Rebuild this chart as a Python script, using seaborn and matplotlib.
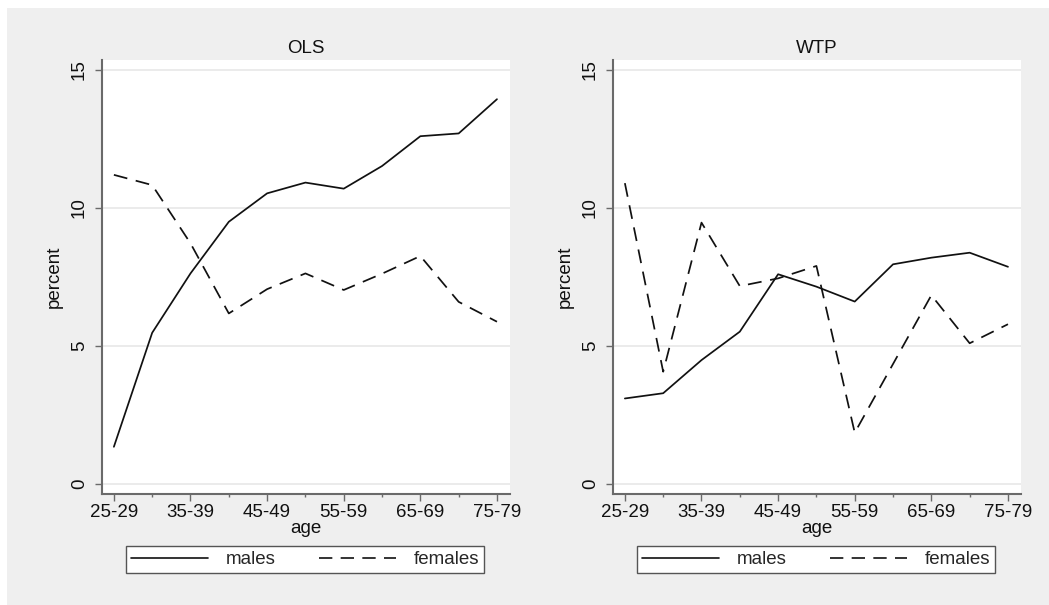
import numpy as np
import pandas as pd
import matplotlib
matplotlib.use("Agg")
import matplotlib.pyplot as plt
from matplotlib.patches import Rectangle
from matplotlib.ticker import FixedLocator
import seaborn as sns

# Age groups (five-year bands)
age_groups = ["25-29", "30-34", "35-39", "40-44", "45-49", "50-54",
              "55-59", "60-64", "65-69", "70-74", "75-79"]

# OLS estimates, percent
ols_males = [1.35, 5.48, 7.63, 9.5, 10.53, 10.92, 10.7, 11.52, 12.6, 12.7, 13.94]
ols_females = [11.2, 10.83, 8.72, 6.18, 7.06, 7.63, 7.03, 7.62, 8.26, 6.6, 5.88]

# WTP estimates, percent
wtp_males = [3.1, 3.29, 4.49, 5.52, 7.6, 7.15, 6.61, 7.96, 8.2, 8.38, 7.87]
wtp_females = [10.9, 4.07, 9.47, 7.17, 7.45, 7.9, 1.86, 4.35, 6.84, 5.1, 5.79]

panel_titles = ["OLS", "WTP"]
series_labels = ["males", "females"]
y_ticks = [0, 5, 10, 15]

sns.set_style("white")
plt.rcParams["font.family"] = ["Liberation Sans", "DejaVu Sans"]
FS = 13.5
INK = "#111111"
AXIS_GREY = "#6a6a6a"
BG_GREY = "#efefef"


def long_frame(males, females):
    return pd.DataFrame({
        "age": age_groups * 2,
        "percent": list(males) + list(females),
        "sex": [series_labels[0]] * len(males) + [series_labels[1]] * len(females),
    })


fig = plt.figure(figsize=(10.49, 6.05), dpi=100, facecolor="white")
W, H = 1049.0, 605.0

# grey graph region
fig.patches.append(Rectangle((7 / W, 0), 1 - 7 / W, 1 - 8 / H,
                             transform=fig.transFigure, facecolor=BG_GREY,
                             edgecolor="none", zorder=-10))

panels = [
    (102, long_frame(ols_males, ols_females)),
    (613, long_frame(wtp_males, wtp_females)),
]

for (left_px, df), title in zip(panels, panel_titles):
    ax = fig.add_axes([left_px / W, (H - 494) / H, 408 / W, 434 / H])
    ax.set_facecolor("white")
    sns.lineplot(data=df, x="age", y="percent", style="sex",
                 dashes={"males": "", "females": (8, 5)},
                 color=INK, linewidth=1.25, sort=False, ax=ax, legend=True)

    ax.set_xlim(-0.31, 10.34)
    ax.set_ylim(-0.36, 15.36)

    ax.set_yticks(y_ticks)
    ax.set_yticklabels([str(v) for v in y_ticks], rotation=90, va="center",
                       fontsize=FS, color=INK)
    ax.yaxis.grid(True, color="#e6e6e6", linewidth=1.1)
    ax.xaxis.grid(False)
    ax.set_axisbelow(True)

    major = list(range(0, len(age_groups), 2))
    minor = list(range(1, len(age_groups), 2))
    ax.xaxis.set_major_locator(FixedLocator(major))
    ax.set_xticklabels([age_groups[i] for i in major], fontsize=FS, color=INK)
    ax.xaxis.set_minor_locator(FixedLocator(minor))

    ax.tick_params(axis="y", which="major", length=5, width=1.0,
                   color=AXIS_GREY, pad=5, left=True)
    ax.tick_params(axis="x", which="major", length=5, width=1.0,
                   color=AXIS_GREY, pad=2.5, bottom=True)
    ax.tick_params(axis="x", which="minor", length=2.5, width=1.0,
                   color=AXIS_GREY, bottom=True)

    for side in ("top", "right"):
        ax.spines[side].set_visible(False)
    for side in ("left", "bottom"):
        ax.spines[side].set_color(AXIS_GREY)
        ax.spines[side].set_linewidth(1.5)

    ax.set_title(title, fontsize=FS, color=INK, pad=5)
    ax.set_xlabel("age", fontsize=FS, color=INK, labelpad=-1)
    ax.set_ylabel("percent", fontsize=FS, color=INK, labelpad=6)

    handles, labels = ax.get_legend_handles_labels()
    ax.get_legend().remove()
    cx = (left_px + 22 + left_px + 384) / 2 / W
    cy = (H - 559.5) / H
    leg = ax.legend(handles, labels, loc="center", bbox_to_anchor=(cx, cy),
                    bbox_transform=fig.transFigure, ncol=2, fontsize=FS,
                    frameon=True, fancybox=False, handlelength=4.1,
                    handletextpad=0.95, columnspacing=2.3, borderpad=0.25,
                    borderaxespad=0)
    frame = leg.get_frame()
    frame.set_edgecolor("#555555")
    frame.set_linewidth(1.0)
    frame.set_facecolor("white")
    frame.set_alpha(1)
    for line in leg.get_lines():
        line.set_color(INK)
        line.set_linewidth(1.2)

fig.savefig("out.png", dpi=100, facecolor=fig.get_facecolor())
